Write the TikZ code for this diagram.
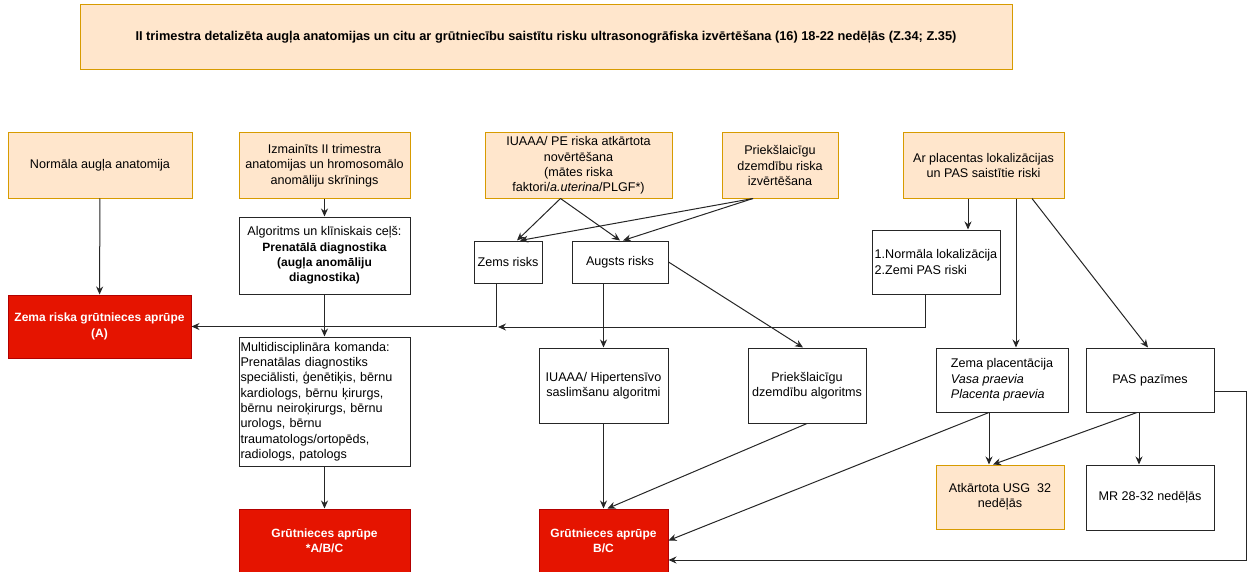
\documentclass[tikz,border=0pt]{standalone}
\usepackage{fontspec}
\setmainfont{Liberation Sans}
\usepackage{tikz}
\usetikzlibrary{arrows.meta}
\usetikzlibrary{positioning}
\definecolor{cfill}{HTML}{FFE6CC}
\definecolor{cline}{HTML}{D79B00}
\definecolor{cred}{HTML}{E51400}
\definecolor{credline}{HTML}{B20000}
\def\boxfont{\fontsize{12.6}{15.3}\selectfont}
\def\bfboxfont{\fontsize{12}{15.3}\selectfont\bfseries}

\begin{document}
\begin{tikzpicture}[x=1pt, y=-1pt,
  box/.style={draw=black!85, fill=white, line width=1pt, font=\boxfont, align=center, inner sep=1.5pt},
  obox/.style={box, draw=cline, fill=cfill},
  rbox/.style={box, draw=credline, fill=cred, text=white, font=\bfboxfont},
  arr/.style={draw=black!85, line width=1pt, -{Stealth[length=8pt, width=7pt]}}]
  \useasboundingbox (0,0) rectangle (1249,572);

  % header
  \node [obox, minimum width=932pt, minimum height=65pt, font=\fontsize{12.8}{15}\selectfont\bfseries] (head) at (546,37.5)
    {II trimestra detalizēta augļa anatomijas un citu ar grūtniecību saistītu risku ultrasonogrāfiska izvērtēšana (16) 18-22 nedēļās (Z.34; Z.35)};

  % first row
  \node [obox, minimum width=184pt, minimum height=65pt] (normal) at (100,165.5) {Normāla augļa anatomija};
  \node [obox, minimum width=171pt, minimum height=65pt] (screen) at (324.5,165.5) {Izmainīts II trimestra\\anatomijas un hromosomālo\\anomāliju skrīnings};
  \node [obox, minimum width=187pt, minimum height=65pt] (iuaaa) at (578.5,165.5) {IUAAA/ PE riska atkārtota\\novērtēšana\\(mātes riska\\faktori/\textit{a.uterina}/PLGF*)};
  \node [obox, minimum width=116pt, minimum height=65pt] (preterm) at (780,165.5) {Priekšlaicīgu\\dzemdību riska\\izvērtēšana};
  \node [obox, minimum width=161pt, minimum height=65pt] (placenta) at (983.5,165.5) {Ar placentas lokalizācijas\\un PAS saistītie riski};

  % second row
  \node [box, minimum width=171pt, minimum height=77pt] (algo) at (324.5,255.5) {Algoritms un klīniskais ceļš:\\{\bfboxfont Prenatālā diagnostika}\\{\bfboxfont (augļa anomāliju}\\{\bfboxfont diagnostika)}};
  \node [box, minimum width=68pt, minimum height=42pt] (zems) at (508,262) {Zems risks};
  \node [box, minimum width=96pt, minimum height=42pt] (augsts) at (620,262) {Augsts risks};
  \node [box, minimum width=128pt, minimum height=64pt, align=left] (normloc) at (936,262) {1.Normāla lokalizācija\\2.Zemi PAS riski};
  \node [rbox, minimum width=183pt, minimum height=63pt] (careA) at (99.5,326.5) {Zema riska grūtnieces aprūpe\\(A)};

  % third row
  \node [box, minimum width=171pt, minimum height=129pt, text width=168pt, align=left] (mdt) at (324.5,401.5)
    {Multidisciplināra komanda:\\Prenatālas diagnostiks\\speciālisti, ģenētiķis, bērnu\\kardiologs, bērnu ķirurgs,\\bērnu neiroķirurgs, bērnu\\urologs, bērnu\\traumatologs/ortopēds,\\radiologs, patologs};
  \node [box, minimum width=129pt, minimum height=75pt] (hyper) at (603.5,385.5) {IUAAA/ Hipertensīvo\\saslimšanu algoritmi};
  \node [box, minimum width=118pt, minimum height=75pt] (pretalg) at (807,385.5) {Priekšlaicīgu\\dzemdību algoritms};
  \node [box, minimum width=132pt, minimum height=64pt, align=left] (lowplac) at (1002,380) {Zema placentācija\\\textit{Vasa praevia}\\\textit{Placenta praevia}};
  \node [box, minimum width=128pt, minimum height=64pt] (pas) at (1150,380) {PAS pazīmes};

  % last row
  \node [rbox, minimum width=171pt, minimum height=63pt] (careABC) at (324.5,540.5) {Grūtnieces aprūpe\\*A/B/C};
  \node [rbox, minimum width=129pt, minimum height=63pt] (careBC) at (603.5,540.5) {Grūtnieces aprūpe\\B/C};
  \node [obox, minimum width=128pt, minimum height=64pt] (usg) at (1000,497) {Atkārtota USG~~32\\nedēļās};
  \node [box, minimum width=128pt, minimum height=65pt] (mr) at (1150,497.5) {MR 28-32 nedēļās};

  \coordinate (merge) at (498,327);
  \coordinate (wrap) at (1246,560);

  % left column
  \draw [arr] (normal) -- (careA);
  \draw [arr] (screen) -- (algo);
  \draw [arr] (algo) -- (mdt);
  \draw [arr] (mdt) -- (careABC);
  \draw [arr] ([xshift=-12pt]zems.south) |- (careA.east);
  \draw [arr] ([xshift=-11pt]normloc.south) |- (merge);
  % risk re-evaluation
  \draw [arr] ([xshift=-18pt]iuaaa.south) -- ([xshift=9pt]zems.north);
  \draw [arr] ([xshift=-18pt]iuaaa.south) -- (augsts.north);
  \draw [arr] ([xshift=-27pt]preterm.south) -- ([xshift=12pt]zems.north);
  \draw [arr] ([xshift=-27pt]preterm.south) -- ([xshift=3pt]augsts.north);
  \draw [arr] (augsts.south -| hyper.north) -- (hyper.north);
  \draw [arr] (augsts.east) -- ([xshift=-4pt]pretalg.north);
  \draw [arr] (hyper) -- (careBC);
  \draw [arr] (pretalg.south) -- ([xshift=4pt]careBC.north);
  % placenta
  \draw [arr] ([xshift=-15.5pt]placenta.south) -- ([xshift=-15.5pt]placenta.south |- normloc.north);
  \draw [arr] ([xshift=14pt]lowplac.north |- placenta.south) -- ([xshift=14pt]lowplac.north);
  \draw [arr] ([xshift=48.5pt]placenta.south) -- ([xshift=-2pt]pas.north);
  \draw [arr] ([xshift=-13pt]lowplac.south) -- (careBC.east);
  \draw [arr] ([xshift=-13pt]lowplac.south) -- ([xshift=-11pt]usg.north);
  \draw [arr] ([xshift=-13pt]pas.south) -- ([xshift=-7pt]usg.north);
  \draw [arr] ([xshift=-11pt]pas.south) -- ([xshift=-11pt]mr.north);
  \draw [arr] ([yshift=-11pt]pas.east) -| (wrap) -- ([yshift=-19.5pt]careBC.east);
\end{tikzpicture}
\end{document}
